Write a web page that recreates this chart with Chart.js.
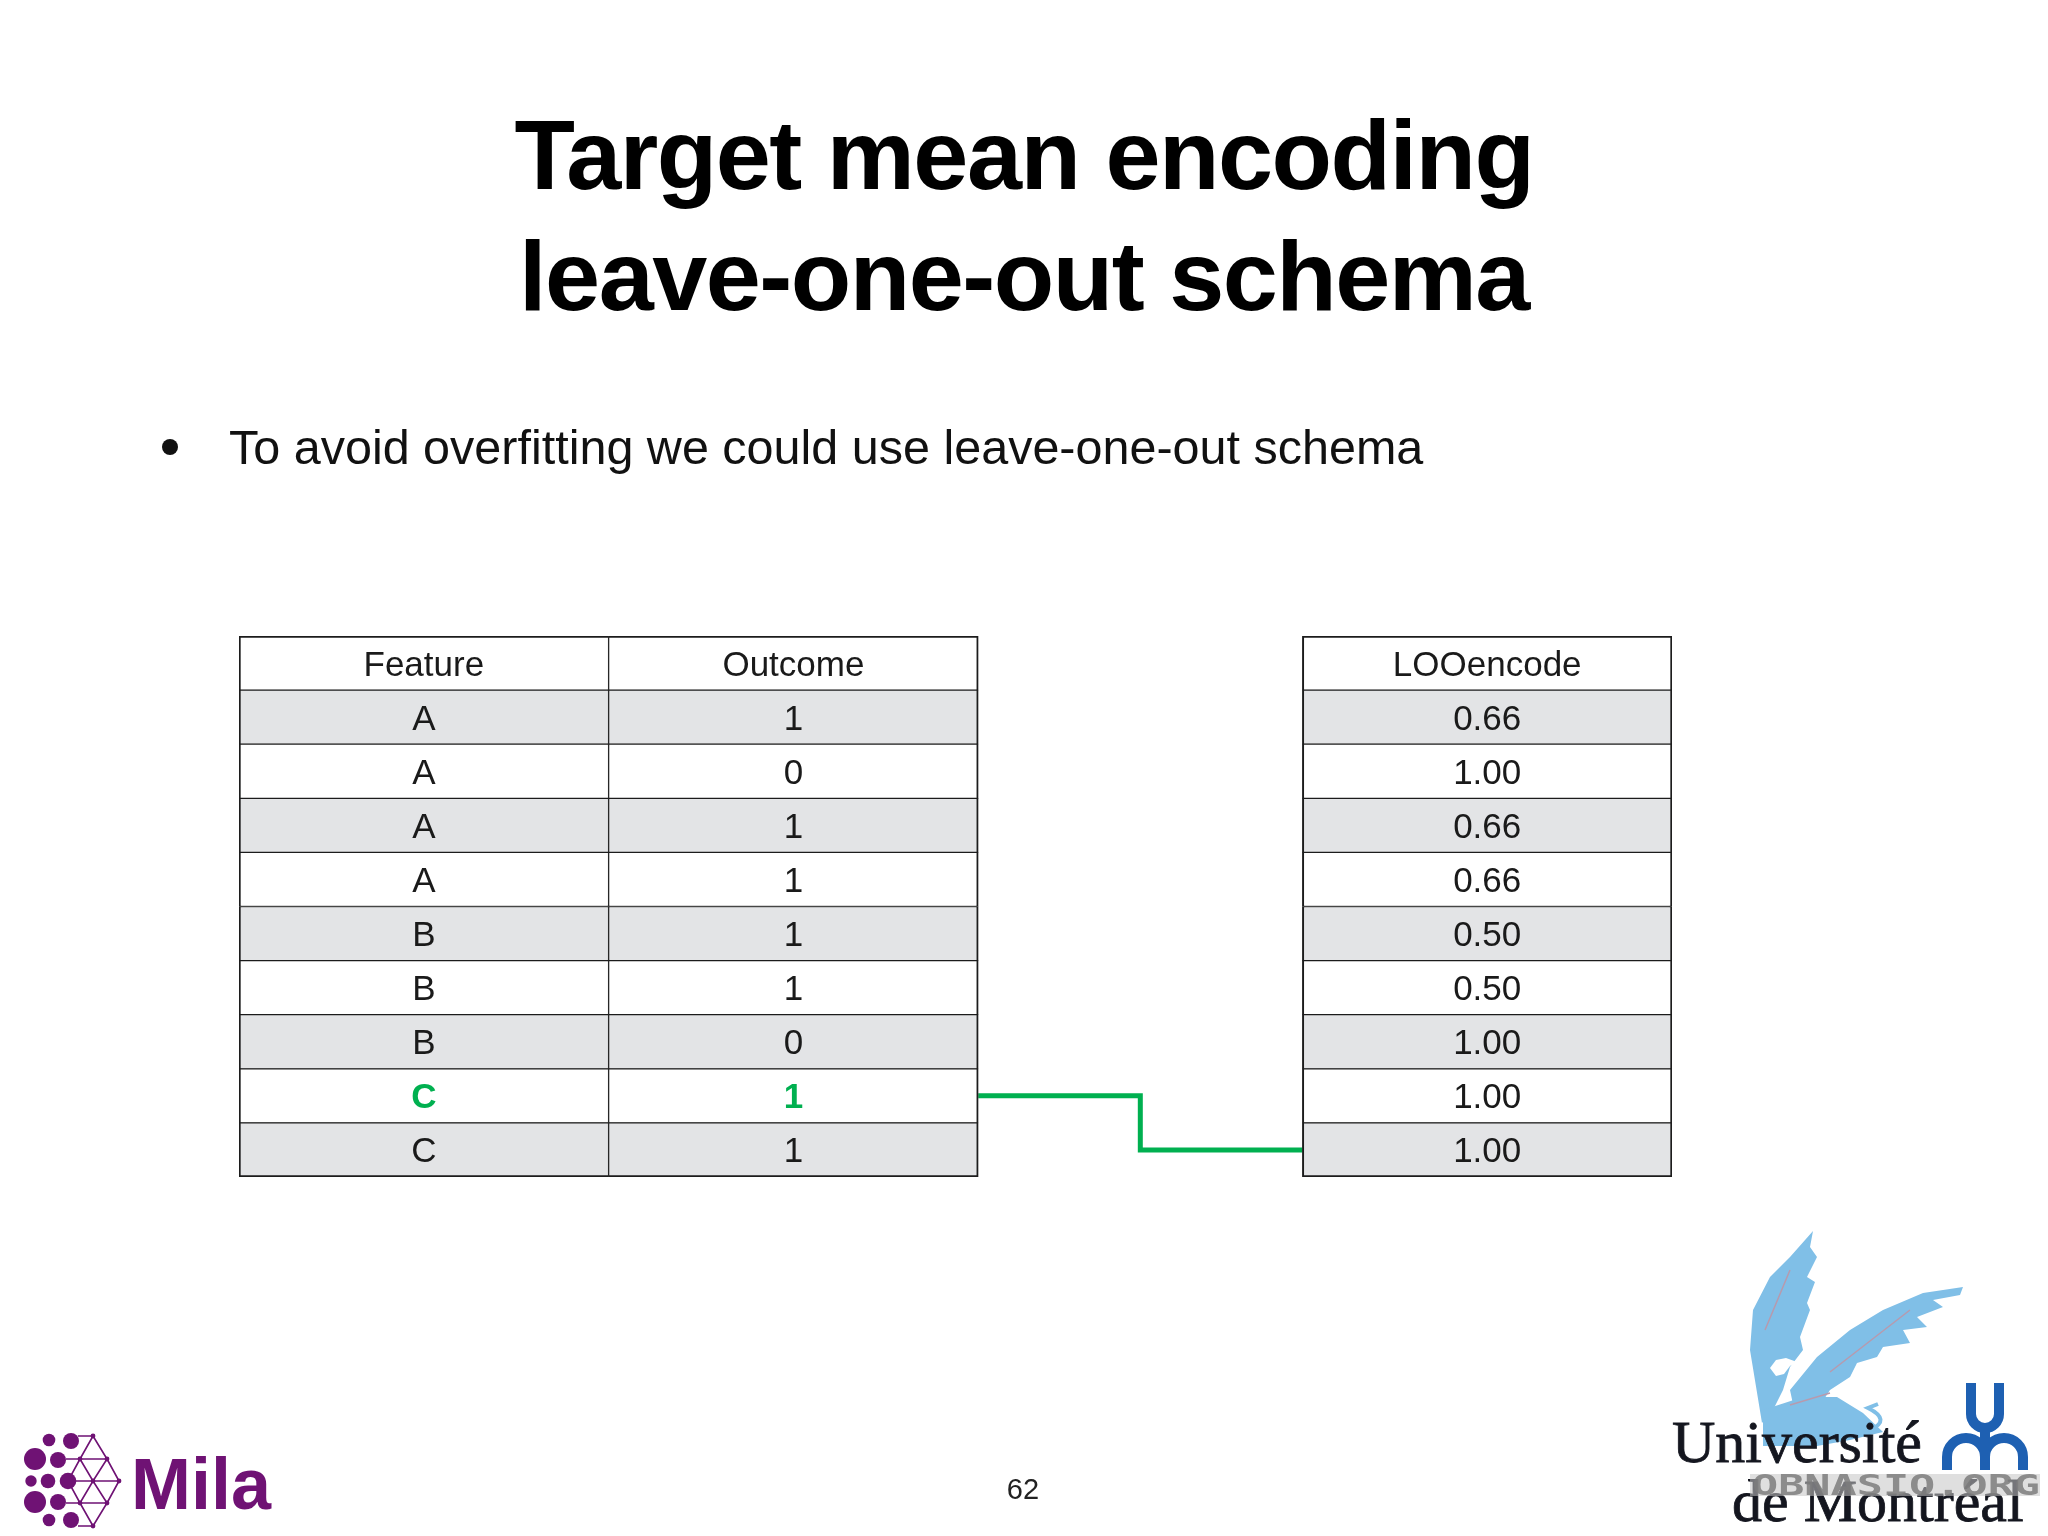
<!DOCTYPE html>
<html lang="en">
<head>
<meta charset="UTF-8">
<title>Target mean encoding - leave-one-out schema</title>
<script src="https://cdn.jsdelivr.net/npm/chart.js"></script>
<style>
  html, body { margin: 0; padding: 0; background: #fff; }
  #slide { position: relative; width: 2048px; height: 1536px; overflow: hidden; background: #fff; }
  #slide canvas { position: absolute; left: 0; top: 0; }
  #overlay { position: absolute; left: 0; top: 0; pointer-events: none; }
  .title { font: bold 99px "Liberation Sans", Arial, sans-serif; letter-spacing: -1.5px; fill: #000; }
  .bullet { font: 48.5px "Liberation Sans", Arial, sans-serif; fill: #111; }
  .page { font: 29px "Liberation Sans", Arial, sans-serif; fill: #222; }
  .mila { font: bold 72px "Liberation Sans", Arial, sans-serif; fill: #6f1274; }
  .udem { font: 60px "Liberation Serif", "Times New Roman", serif; fill: #14161f; stroke: #14161f; stroke-width: 0.8px; }
  .mark { font: bold 28px "DejaVu Sans Mono", monospace; fill: #7d7d7d; opacity: 0.85; }
</style>
</head>
<body>
<div id="slide">
  <canvas id="tableChart" width="2048" height="1536"></canvas>
  <svg id="overlay" width="2048" height="1536" xmlns="http://www.w3.org/2000/svg">
    <text class="title" x="1024" y="189" text-anchor="middle">Target mean encoding</text>
    <text class="title" x="1024" y="310" text-anchor="middle">leave-one-out schema</text>
    <circle cx="170" cy="447" r="8" fill="#111"/>
    <text class="bullet" x="229" y="464">To avoid overfitting we could use leave-one-out schema</text>
    <text class="page" x="1023" y="1499" text-anchor="middle">62</text>
    <text class="mila" x="131" y="1509">Mila</text>
    <text class="udem" x="1672" y="1462">Université</text>
    <text class="udem" x="1732" y="1521">de Montréal</text>
    <rect x="1750" y="1474" width="290" height="22" fill="#c4c4c4" opacity="0.55"/>
    <text class="mark" x="1752" y="1495" textLength="288" lengthAdjust="spacingAndGlyphs">OBNASIO.ORG</text>
  </svg>
</div>

<script>
  // Table contents
  const headers = ['Feature', 'Outcome', 'LOOencode'];
  const features = ['A', 'A', 'A', 'A', 'B', 'B', 'B', 'C', 'C'];
  const outcomes = [1, 0, 1, 1, 1, 1, 0, 1, 1];
  const looEncode = [0.66, 1.00, 0.66, 0.66, 0.50, 0.50, 1.00, 1.00, 1.00];
  const highlightRow = 7; // green "C / 1" row
  const linkedRow = 8;    // LOO cell the green line points at

  // one category per table row (header first)
  const rowLabels = ['header'].concat(features.map((f, i) => f + (i + 1)));
  // column extents in "column widths"; the LOO table sits after a gap
  const colSpans = [[0, 1], [1, 2], [2.877, 3.877]];

  const gray = '#e3e4e6';
  const green = '#00b050';

  function labelFor(c, j) {
    if (j === 0) return headers[c];
    if (c === 0) return features[j - 1];
    if (c === 1) return String(outcomes[j - 1]);
    return looEncode[j - 1].toFixed(2);
  }

  // cell texts, centred on each bar
  const cellText = {
    id: 'cellText',
    afterDatasetsDraw(chart) {
      const ctx = chart.ctx;
      ctx.save();
      ctx.textAlign = 'center';
      ctx.textBaseline = 'alphabetic';
      headers.forEach((h, c) => {
        chart.getDatasetMeta(c).data.forEach((bar, j) => {
          const hi = j === highlightRow + 1 && c < 2;
          ctx.font = (hi ? 'bold ' : '') + '35px "Liberation Sans", Arial, sans-serif';
          ctx.fillStyle = hi ? green : '#1a1a1a';
          ctx.fillText(labelFor(c, j), (bar.x + bar.base) / 2, bar.y + 12.5);
        });
      });
      ctx.restore();
    }
  };

  // slide logos (decoration only)
  const logos = {
    id: 'logos',
    afterDraw(chart) {
      const ctx = chart.ctx;
      ctx.save();

      // Mila mark
      const purple = '#6f1274';
      const big = [[49, 1440, 6.3], [71, 1441, 8], [35, 1459, 11], [58, 1460, 8], [31, 1481, 5.7],
        [48, 1481, 7.3], [68, 1481, 8.3], [35, 1502, 11], [58, 1502, 8], [49, 1520, 6.3], [71, 1520, 8]];
      const nodes = [[93, 1436], [80, 1459], [107, 1459], [93, 1481], [119, 1481], [80, 1503], [107, 1503], [93, 1526]];
      const links = [[0, 1], [0, 2], [1, 2], [1, 3], [2, 3], [2, 4], [3, 4], [3, 5], [3, 6], [4, 6], [5, 6], [5, 7], [6, 7]];
      ctx.strokeStyle = purple;
      ctx.lineWidth = 1.6;
      ctx.beginPath();
      links.forEach(([a, b]) => { ctx.moveTo(nodes[a][0], nodes[a][1]); ctx.lineTo(nodes[b][0], nodes[b][1]); });
      ctx.moveTo(78, 1436); ctx.lineTo(93, 1436);
      ctx.moveTo(66, 1459); ctx.lineTo(107, 1459);
      ctx.moveTo(68, 1481); ctx.lineTo(119, 1481);
      ctx.moveTo(66, 1503); ctx.lineTo(107, 1503);
      ctx.moveTo(78, 1526); ctx.lineTo(93, 1526);
      ctx.moveTo(80, 1459); ctx.lineTo(68, 1481); ctx.lineTo(80, 1503);
      ctx.stroke();
      ctx.fillStyle = purple;
      big.concat(nodes.map(n => [n[0], n[1], 2.4])).forEach(([x, y, r]) => {
        ctx.beginPath(); ctx.arc(x, y, r, 0, Math.PI * 2); ctx.fill();
      });

      // Université de Montréal griffin
      const blue = '#80bfe7';
      const poly = pts => { ctx.beginPath(); pts.forEach((p, i) => i ? ctx.lineTo(p[0], p[1]) : ctx.moveTo(p[0], p[1])); ctx.closePath(); ctx.fill(); };
      ctx.fillStyle = blue;
      poly([[1762, 1423], [1750, 1350], [1753, 1310], [1770, 1277], [1790, 1257], [1813, 1231], [1810, 1247],
        [1817, 1257], [1807, 1277], [1815, 1282], [1807, 1303], [1810, 1310], [1800, 1337], [1803, 1350],
        [1790, 1367], [1783, 1390], [1773, 1410]]);
      poly([[1790, 1390], [1817, 1357], [1850, 1330], [1883, 1310], [1923, 1293], [1963, 1287], [1960, 1295],
        [1933, 1300], [1943, 1307], [1917, 1317], [1927, 1327], [1903, 1330], [1910, 1343], [1883, 1347],
        [1877, 1357], [1857, 1363], [1850, 1377], [1830, 1390], [1817, 1410], [1797, 1423]]);
      poly([[1763, 1410], [1803, 1397], [1837, 1397], [1863, 1413], [1883, 1432], [1850, 1440], [1817, 1446], [1763, 1446]]);
      ctx.strokeStyle = blue;
      ctx.lineWidth = 4;
      ctx.beginPath();
      ctx.moveTo(1870, 1430); ctx.quadraticCurveTo(1892, 1420, 1868, 1408); ctx.lineTo(1878, 1404);
      ctx.stroke();
      ctx.fillStyle = '#ffffff';
      poly([[1770, 1368], [1776, 1360], [1786, 1358], [1797, 1362], [1790, 1366], [1784, 1374], [1776, 1376]]);
      ctx.strokeStyle = '#b79aae';
      ctx.lineWidth = 1.5;
      ctx.beginPath();
      ctx.moveTo(1765, 1330); ctx.lineTo(1790, 1270);
      ctx.moveTo(1830, 1372); ctx.lineTo(1910, 1310);
      ctx.moveTo(1790, 1405); ctx.lineTo(1830, 1393);
      ctx.stroke();

      // UdeM monogram
      ctx.strokeStyle = '#1e60b2';
      ctx.lineWidth = 10;
      ctx.beginPath();
      ctx.moveTo(1971, 1383); ctx.lineTo(1971, 1414);
      ctx.arc(1985, 1414, 14, Math.PI, 0, true);
      ctx.lineTo(1999, 1383);
      ctx.moveTo(1985, 1426); ctx.lineTo(1985, 1470);
      ctx.moveTo(1947, 1470); ctx.lineTo(1947, 1457);
      ctx.arc(1966, 1457, 19, Math.PI, 0, false);
      ctx.moveTo(1985, 1457);
      ctx.arc(2004, 1457, 19, Math.PI, 0, false);
      ctx.lineTo(2023, 1470);
      ctx.stroke();

      ctx.restore();
    }
  };

  const columnSets = headers.map((h, c) => ({
    type: 'bar',
    label: h,
    data: rowLabels.map(() => colSpans[c]),
    backgroundColor: ctx => (ctx.dataIndex % 2 === 1 ? gray : '#ffffff'),
    borderColor: '#1c1c1c',
    borderWidth: ctx => ({
      top: ctx.dataIndex === 0 ? 2 : 1,
      bottom: ctx.dataIndex === rowLabels.length - 1 ? 2 : 1,
      left: c === 1 ? 1 : 2,
      right: c === 0 ? 1 : 2
    }),
    borderSkipped: false,
    grouped: false,
    categoryPercentage: 1,
    barPercentage: 1
  }));

  // green step line from the highlighted row to its LOO value
  const linkSet = {
    type: 'line',
    label: 'link',
    data: [
      { x: colSpans[1][1], y: rowLabels[highlightRow + 1] },
      { x: colSpans[2][0], y: rowLabels[linkedRow + 1] }
    ],
    stepped: 'middle',
    borderColor: green,
    borderWidth: 5,
    pointRadius: 0,
    fill: false
  };

  new Chart(document.getElementById('tableChart'), {
    type: 'bar',
    data: {
      labels: rowLabels,
      datasets: columnSets.concat([linkSet])
    },
    options: {
      indexAxis: 'y',
      responsive: false,
      animation: false,
      devicePixelRatio: 1,
      layout: { padding: { left: 239, right: 376, top: 636, bottom: 359 } },
      scales: {
        x: { type: 'linear', min: 0, max: 3.877, display: false },
        y: { type: 'category', labels: rowLabels, offset: true, display: false }
      },
      plugins: {
        legend: { display: false },
        tooltip: { enabled: false }
      }
    },
    plugins: [cellText, logos]
  });
</script>
</body>
</html>
